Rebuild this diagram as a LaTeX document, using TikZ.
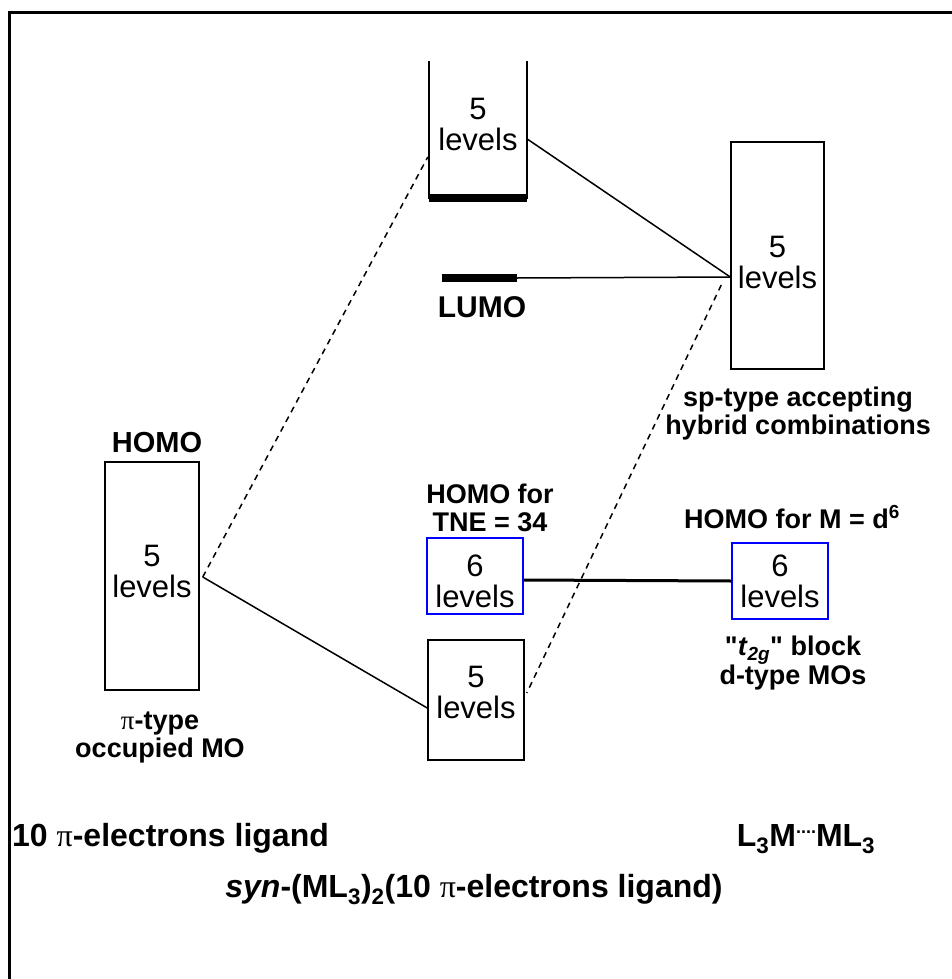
\documentclass[tikz,border=0pt]{standalone}
\usepackage{fontspec}
\setmainfont{Liberation Sans}
\newfontfamily\grkfont{Liberation Serif}
\usetikzlibrary{calc}
\newcommand{\pisym}{{\grkfont\mdseries\upshape π}}
\begin{document}
\begin{tikzpicture}[x=1pt,y=-1pt,
  lvl/.style={align=center, font=\fontsize{31}{31}\selectfont, inner sep=0pt},
  lbl/.style={align=center, font=\bfseries\fontsize{27}{28}\selectfont, inner sep=0pt},
  biglbl/.style={font=\bfseries\fontsize{32}{32}\selectfont, inner sep=0pt},
  box/.style={draw, line width=1.5pt, inner sep=0pt},
  bluebox/.style={draw=blue, line width=1.5pt, inner sep=0pt},
  conn/.style={line width=1.5pt},
  dconn/.style={line width=1.5pt, dash pattern=on 6pt off 5pt}]
\useasboundingbox (0,0) rectangle (952,979);
% frame (top and left sides only)
\draw[line width=3pt] (9,979) -- (9,13) -- (952,13);

% open-topped box
\node[minimum width=98pt, minimum height=137pt, inner sep=0pt] (top) at (478,129.5) {};
\draw[line width=1.5pt] (top.north west) -- (top.south west) -- (top.south east) -- (top.north east);
\draw[line width=8pt] (top.south west) -- (top.south east);
\node[lvl] (toptxt) at (478,124) {5\\levels};

% LUMO bar
\node[fill=black, minimum width=75pt, minimum height=8pt, inner sep=0pt] (lumo) at (479.5,278) {};
\node[lbl, anchor=base, font=\bfseries\fontsize{30}{30}\selectfont] (lumolbl) at (482,317) {LUMO};

% right box
\node[box, minimum width=93pt, minimum height=227pt] (rbox) at (777.5,255.5) {};
\node[lvl] (rtxt) at (777.5,262.5) {5\\levels};
\node[lbl] (rlbl) at (798,414) {sp-type accepting\\hybrid combinations};

% left box
\node[box, minimum width=94pt, minimum height=228pt] (lbox) at (152,576) {};
\node[lvl] (ltxt) at (152,571) {5\\levels};
\node[lbl, anchor=base, font=\bfseries\fontsize{29}{29}\selectfont] (homo) at (157,452) {HOMO};
\node[lbl] (llbl) at (160,737) {\pisym-type\\occupied MO};

% middle bottom box
\node[box, minimum width=96pt, minimum height=120pt] (mbox) at (476,700) {};
\node[lvl] (mtxt) at (476,692.5) {5\\levels};

% blue boxes
\node[bluebox, minimum width=96pt, minimum height=76pt] (b1) at (475,576) {};
\node[lvl] (b1txt) at (475,581) {6\\levels};
\node[lbl] (b1lbl) at (490,507.5) {HOMO for\\TNE = 34};
\node[bluebox, minimum width=96pt, minimum height=76pt] (b2) at (780,581) {};
\node[lvl] (b2txt) at (780,581) {6\\levels};
\node[lbl, anchor=base] (b2lbl) at (792,528) {HOMO for M = d\textsuperscript{6}};
\node[lbl] (tlbl) at (793,663) {\textquotedbl\textit{t}\textsubscript{\textit{2g}}\textquotedbl{} block\\d-type MOs};

% connectors
\coordinate (rin) at ([yshift=-21.5pt]rbox.west);
\draw[conn] ([yshift=-9.5pt]top.east) -- (rin);
\draw[conn] (lumo.east) -- (rin);
\draw[dconn] ([xshift=-9pt,yshift=-29.5pt]rbox.west) -- ([xshift=2pt,yshift=7pt]mbox.east);
\draw[dconn] ([xshift=3pt,yshift=-1pt]lbox.east) -- ([xshift=-1pt,yshift=-27.5pt]top.west);
\draw[conn] ([xshift=3pt,yshift=-1pt]lbox.east) -- ([yshift=-8pt]mbox.west);
\draw[line width=3pt] ([yshift=-4pt]b1.east) -- (b2.west);

% bottom captions
\node[biglbl, anchor=base west] (lig) at (12,846) {10 \pisym-electrons ligand};
\node[biglbl, anchor=base] (dimer) at (806,846) {L\textsubscript{3}M\raisebox{0.4em}{\fontsize{18}{18}\selectfont ....}ML\textsubscript{3}};
\node[biglbl, anchor=base] (title) at (474,897) {\textit{syn}-(ML\textsubscript{3})\textsubscript{2}(10 \pisym-electrons ligand)};
\end{tikzpicture}
\end{document}
